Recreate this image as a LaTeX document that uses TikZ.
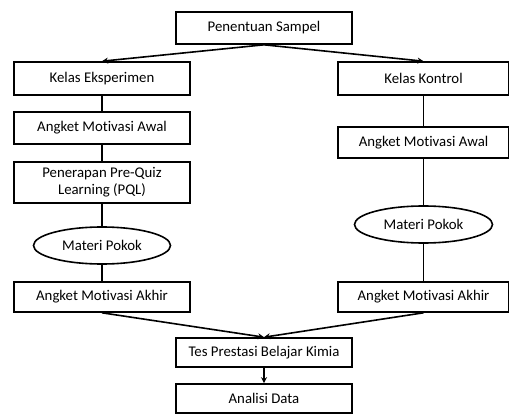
\documentclass[tikz,border=0pt]{standalone}
\usepackage{fontspec}
\setmainfont{Carlito}[Ligatures=NoCommon]
\usetikzlibrary{arrows.meta,shapes.geometric}
\begin{document}
\begin{tikzpicture}[x=1pt,y=1pt,
  box/.style={draw,line width=1.6pt,inner sep=0pt,align=center,font=\fontsize{14.8}{17}\selectfont},
  oval/.style={draw,ellipse,line width=1.6pt,inner sep=0pt,font=\fontsize{14.8}{17}\selectfont},
  link/.style={line width=1.6pt},
  arr/.style={line width=1.6pt,-{Stealth[length=6pt,width=6pt]}}]
\useasboundingbox (0,0) rectangle (509,-417);
\node[box,minimum width=176,minimum height=32] (top) at (264,-28) {Penentuan Sampel};
\node[box,minimum width=176,minimum height=33] (ke) at (102,-78.5) {Kelas Eksperimen};
\node[box,minimum width=171,minimum height=33] (kk) at (423.5,-78.5) {Kelas Kontrol};
\node[box,minimum width=176,minimum height=32] (la) at (102,-128) {Angket Motivasi Awal};
\node[box,minimum width=171,minimum height=31] (ra) at (423.5,-142.5) {Angket Motivasi Awal};
\node[box,minimum width=176,minimum height=41] (pen) at (102,-182.5) {Penerapan Pre-Quiz\\Learning (PQL)};
\node[oval,minimum width=137,minimum height=37] (le) at (102,-245.5) {Materi Pokok};
\node[oval,minimum width=138,minimum height=37] (re) at (423.5,-224.5) {Materi Pokok};
\node[box,minimum width=176,minimum height=30] (lk) at (102,-297) {Angket Motivasi Akhir};
\node[box,minimum width=171,minimum height=30] (rk) at (423.5,-297) {Angket Motivasi Akhir};
\node[box,minimum width=176,minimum height=29] (tes) at (264,-352.5) {Tes Prestasi Belajar Kimia};
\node[box,minimum width=176,minimum height=29] (an) at (264,-398.5) {Analisi Data};
\draw[arr] (top.south) -- (ke.north);
\draw[arr] (top.south) -- (kk.north);
\draw[link] (ke) -- (la);
\draw[link] (la) -- (pen);
\draw[link] (pen) -- (le);
\draw[link] (le) -- (lk);
\draw[link] (kk) -- (ra);
\draw[link] (ra) -- (re);
\draw[link] (re) -- (rk);
\draw[arr] (lk.south) -- (tes.north);
\draw[arr] (rk.south) -- (tes.north);
\draw[arr] (tes) -- (an);
\end{tikzpicture}
\end{document}
